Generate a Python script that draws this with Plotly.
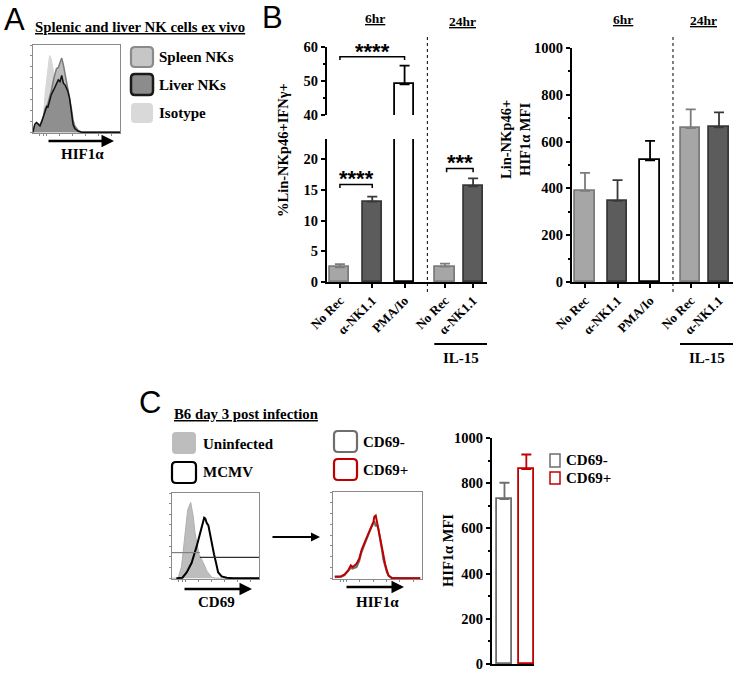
import plotly.graph_objects as go

W, H = 734, 673
SERIF = "Liberation Serif"
SANS = "Liberation Sans"

# ---------------- data ----------------
# Panel A: histogram (percent of box), channel position 0-100
hist_a_x = [0, 2, 4, 6, 8, 10, 12, 14, 16, 17, 19, 21, 24, 27, 29, 31, 33, 35, 37, 40, 42, 44, 46, 48, 52, 56, 60, 70, 100]
isotype_y = [0, 0, 0, 0, 0, 3, 20, 45, 65, 74, 88, 84, 67, 48, 36, 25, 16, 10, 6, 2, 1, 0, 0, 0, 0, 0, 0, 0, 0]
spleen_y = [0, 8, 11, 9, 8, 13, 18, 27, 31, 32, 40, 47, 62, 73, 74, 80, 85, 77, 66, 50, 43, 28, 14, 7, 2, 0, 0, 0, 0]
liver_y = [0, 9, 11, 9, 7, 12, 18, 26, 30, 28, 35, 43, 49, 56, 60, 58, 65, 56, 54, 47, 39, 24, 9, 4, 1, 0, 0, 0, 0]

# Panel B
b_labels = ["No Rec", "α-NK1.1", "PMA/Io", "No Rec", "α-NK1.1"]
b_pos = [0, 1, 2, 3.25, 4.12]
b_groups = ["norec", "ank", "pma", "norec", "ank"]
ifng_mean = [2.4, 13.1, 49.0, 2.5, 15.6]
ifng_err = [0.5, 0.8, 5.5, 0.5, 1.3]
hif_mean = [390, 347, 520, 658, 661]
hif_err = [76, 88, 83, 80, 64]
sig = [  # (x0, x1, y, label, axis)
    (0, 2, 57.1, "****", "upper"),
    (0, 1, 15.9, "****", "lower"),
    (3.3, 4.12, 18.5, "***", "lower"),
]

# Panel C
uninf_x = [0, 7, 11, 15, 18, 21.5, 24.5, 26.5, 29, 31, 36, 40, 45.6, 50, 100]
uninf_y = [0, 0, 14, 49, 80, 89, 72, 53, 38, 28, 18, 8.5, 1, 0, 0]
mcmv_x = [5, 12, 17, 22.6, 28.4, 32, 35, 37, 38.3, 39.8, 41.8, 43, 45.6, 48.3, 50.6, 53, 57, 63, 70, 100]
mcmv_y = [0, 0.5, 7, 18, 37.6, 53, 65, 71, 70, 65, 62, 55, 40, 28, 18, 7, 2, 0.5, 0, 0]
gate_y = [30, 24.4]
hif_x = [2, 9, 13, 17, 20, 22, 24.5, 26.5, 29.5, 32, 35, 38, 41, 43.5, 45.5, 46.5, 48, 49, 51, 53, 55, 56.5, 58.5, 60.5, 62.5, 66, 98]
hif_pos_y = [2, 2, 4.3, 9, 14.8, 12.9, 14.8, 16.8, 22.7, 32.4, 40.2, 48, 55.9, 61.7, 65.6, 71.5, 72.7, 67.6, 55.9, 48, 36.3, 24.6, 16.8, 9, 3.1, 0, 0]
hif_neg_y = [1, 1.5, 3.5, 8, 12, 11, 12.5, 13, 20, 30, 38, 47, 54, 60, 64, 66, 60, 63, 57, 46, 33, 22, 14, 7, 2.5, 0.5, 0]
c_labels = ["CD69-", "CD69+"]
c_mean = [730, 862]
c_err = [72, 65]

# ---------------- helpers ----------------
def px(a):
    return a / W

def py(b):
    return 1 - b / H

def dx(a, b):
    return [a / W, b / W]

def dy(top, bottom):
    return [1 - bottom / H, 1 - top / H]

styles = {
    "norec": dict(fill="#a6a6a6", line="#7c7c7c"),
    "ank": dict(fill="#5c5c5c", line="#383838"),
    "pma": dict(fill="#ffffff", line="#000000"),
}

fig = go.Figure()

# ---- Panel A histogram ----
fig.add_trace(go.Scatter(x=hist_a_x, y=isotype_y, mode="lines", fill="tozeroy",
                         fillcolor="#d7d7d7", line=dict(color="#d7d7d7", width=1),
                         xaxis="x", yaxis="y", showlegend=False, hoverinfo="skip"))
fig.add_trace(go.Scatter(x=hist_a_x, y=spleen_y, mode="lines", fill="tozeroy",
                         fillcolor="rgba(165,165,165,0.75)", line=dict(color="#7a7a7a", width=1.5),
                         xaxis="x", yaxis="y", showlegend=False, hoverinfo="skip"))
fig.add_trace(go.Scatter(x=hist_a_x, y=liver_y, mode="lines", fill="tozeroy",
                         fillcolor="#8f8f8f", line=dict(color="#111111", width=1.5),
                         xaxis="x", yaxis="y", showlegend=False, hoverinfo="skip"))

# ---- Panel B bars ----
def group_idx(g):
    return [i for i, gg in enumerate(b_groups) if gg == g]

for g in ["norec", "ank", "pma"]:
    idx = group_idx(g)
    st = styles[g]
    xs = [b_pos[i] for i in idx]
    # lower broken segment
    fig.add_trace(go.Bar(x=xs, y=[ifng_mean[i] for i in idx], width=0.59,
                         marker=dict(color=st["fill"], line=dict(color=st["line"], width=1.8)),
                         error_y=dict(type="data", symmetric=False,
                                      array=[ifng_err[i] for i in idx],
                                      arrayminus=[0] * len(idx),
                                      color=st["line"], thickness=1.8, width=5),
                         xaxis="x3", yaxis="y3", showlegend=False, hoverinfo="skip"))
    # right chart
    fig.add_trace(go.Bar(x=xs, y=[hif_mean[i] for i in idx], width=0.59,
                         marker=dict(color=st["fill"], line=dict(color=st["line"], width=1.8)),
                         error_y=dict(type="data", symmetric=False,
                                      array=[hif_err[i] for i in idx],
                                      arrayminus=[0] * len(idx),
                                      color=st["line"], thickness=1.8, width=5),
                         xaxis="x4", yaxis="y4", showlegend=False, hoverinfo="skip"))

# upper broken segment: only the bar that reaches it
up_idx = [i for i, v in enumerate(ifng_mean) if v > 40]
fig.add_trace(go.Bar(x=[b_pos[i] for i in up_idx], y=[ifng_mean[i] for i in up_idx], width=0.59,
                     marker=dict(color=styles["pma"]["fill"], line=dict(color="#000", width=1.8)),
                     error_y=dict(type="data", symmetric=False,
                                  array=[ifng_err[i] for i in up_idx],
                                  arrayminus=[0] * len(up_idx),
                                  color="#000", thickness=1.8, width=5),
                     xaxis="x2", yaxis="y2", showlegend=False, hoverinfo="skip"))

# ---- Panel C histograms ----
fig.add_trace(go.Scatter(x=uninf_x, y=uninf_y, mode="lines", fill="tozeroy",
                         fillcolor="#bdbdbd", line=dict(color="#b0b0b0", width=1),
                         xaxis="x5", yaxis="y5", showlegend=False, hoverinfo="skip"))
fig.add_trace(go.Scatter(x=mcmv_x, y=mcmv_y, mode="lines",
                         line=dict(color="#000", width=2),
                         xaxis="x5", yaxis="y5", showlegend=False, hoverinfo="skip"))
fig.add_trace(go.Scatter(x=hif_x, y=hif_neg_y, mode="lines",
                         line=dict(color="#6e6e6e", width=2),
                         xaxis="x6", yaxis="y6", showlegend=False, hoverinfo="skip"))
fig.add_trace(go.Scatter(x=hif_x, y=hif_pos_y, mode="lines",
                         line=dict(color="#c00000", width=2),
                         xaxis="x6", yaxis="y6", showlegend=False, hoverinfo="skip"))

# ---- Panel C bars ----
c_colors = ["#6e6e6e", "#c00000"]
for lab, m, e, col in zip(c_labels, c_mean, c_err, c_colors):
    fig.add_trace(go.Bar(x=[lab], y=[m], width=0.68,
                         marker=dict(color="#ffffff", line=dict(color=col, width=1.8)),
                         error_y=dict(type="data", symmetric=False, array=[e], arrayminus=[0],
                                      color=col, thickness=1.8, width=5),
                         xaxis="x7", yaxis="y7", showlegend=False, hoverinfo="skip"))

# ---------------- axes ----------------
tickfont = dict(family=SERIF, size=14.5, color="#000", weight="bold")
xtickfont = dict(family=SERIF, size=13, color="#000", weight="bold")

def hist_axes(xd, yd):
    xa = dict(domain=xd, range=[0, 100], showline=True, linecolor="#8a8a8a", linewidth=1,
              mirror=True, showgrid=False, zeroline=False, showticklabels=False, automargin=False,
              ticks="outside", ticklen=2, tickcolor="#8a8a8a", tickvals=[8, 12, 15, 30, 45, 60, 75, 90])
    ya = dict(domain=yd, range=[-1, 100], showline=True, linecolor="#8a8a8a", linewidth=1,
              mirror=True, showgrid=False, zeroline=False, showticklabels=False, automargin=False,
              ticks="outside", ticklen=2, tickcolor="#8a8a8a", dtick=12.5, tick0=0)
    return xa, ya

xa1, ya1 = hist_axes(dx(33, 120), dy(45, 133))
xa5, ya5 = hist_axes(dx(172, 259), dy(493, 579))
xa6, ya6 = hist_axes(dx(333, 422), dy(492, 579))
xa5["anchor"] = "y5"; ya5["anchor"] = "x5"
xa6["anchor"] = "y6"; ya6["anchor"] = "x6"

bx_range = [-0.4, 4.55]
bar_y_common = dict(showline=True, linecolor="#000", linewidth=2, showgrid=False, zeroline=False,
                    ticks="outside", ticklen=4, tickwidth=2, tickcolor="#000", tickfont=tickfont,
                    automargin=False, ticklabeloverflow="allow")
bar_x_common = dict(showline=True, linecolor="#000", linewidth=2, showgrid=False, zeroline=False,
                    ticks="outside", ticklen=4, tickwidth=2, tickcolor="#000", automargin=False,
                    ticklabeloverflow="allow",
                    tickvals=b_pos, ticktext=b_labels, tickangle=-45, tickfont=xtickfont)

fig.update_layout(
    template="none",
    width=W, height=H, margin=dict(l=0, r=0, t=0, b=0, pad=0, autoexpand=False),
    paper_bgcolor="#ffffff", plot_bgcolor="rgba(0,0,0,0)",
    bargap=0, barmode="overlay", showlegend=False,
    xaxis=xa1, yaxis=ya1,
    xaxis2=dict(domain=dx(327, 487), range=bx_range, visible=False, anchor="y2", automargin=False),
    yaxis2=dict(domain=dy(47, 115), range=[40, 60], anchor="x2", tickvals=[40, 50, 60],
                minor=dict(ticks="outside", ticklen=2, tickwidth=1.5, dtick=5, tickcolor="#000"),
                **bar_y_common),
    xaxis3=dict(domain=dx(327, 487), range=bx_range, anchor="y3", **bar_x_common),
    yaxis3=dict(domain=dy(139, 282), range=[0, 23.3], anchor="x3", tickvals=[0, 5, 10, 15, 20],
                **bar_y_common),
    xaxis4=dict(domain=dx(572, 733), range=bx_range, anchor="y4", **bar_x_common),
    yaxis4=dict(domain=dy(48, 282), range=[0, 1000], anchor="x4", dtick=200,
                minor=dict(ticks="outside", ticklen=2, tickwidth=1.5, dtick=100, tickcolor="#000"),
                **bar_y_common),
    xaxis5=xa5, yaxis5=ya5,
    xaxis6=xa6, yaxis6=ya6,
    xaxis7=dict(domain=dx(492, 534), range=[-0.57, 1.35], anchor="y7", showline=True,
                linecolor="#000", linewidth=2, showgrid=False, zeroline=False, automargin=False,
                showticklabels=False, ticks=""),
    yaxis7=dict(domain=dy(438, 664), range=[0, 1000], anchor="x7", dtick=200,
                minor=dict(ticks="outside", ticklen=2, tickwidth=1.5, dtick=100, tickcolor="#000"),
                **bar_y_common),
)

# ---------------- annotations ----------------
anns = []
TS = 15  # serif label size

def text(t, x, y, size=TS, xanchor="center", angle=0, family=SERIF, bold=True, color="#000"):
    f = dict(family=family, size=size, color=color)
    if bold:
        f["weight"] = "bold"
    anns.append(dict(text=t, x=px(x), y=py(y), xref="paper", yref="paper", showarrow=False,
                     xanchor=xanchor, yanchor="middle", textangle=angle, font=f))

def arrow(x0, y0, x1, y1, width=2.5):
    anns.append(dict(text="", x=px(x1), y=py(y1), xref="paper", yref="paper", showarrow=True,
                     ax=x0 - x1, ay=y0 - y1, arrowhead=2, arrowsize=1, arrowwidth=width,
                     arrowcolor="#000"))

# Panel letters
text("A", 14, 19, size=31, family=SANS, bold=False)
text("B", 272, 17, size=31, family=SANS, bold=False)
text("C", 150, 402, size=31, family=SANS, bold=False)

# Panel A
text("<u>Splenic and liver NK cells ex vivo</u>", 33, 27, size=14.8, xanchor="left")
text("Spleen NKs", 157, 57, xanchor="left")
text("Liver NKs", 157, 85, xanchor="left")
text("Isotype", 157, 113, xanchor="left")
text("HIF1α", 82, 154)
arrow(47, 141, 114, 141)

# Panel B
text("<u>6hr</u>", 375, 18, size=13.5)
text("<u>24hr</u>", 462, 22, size=13.5)
text("<u>6hr</u>", 623, 19, size=13.5)
text("<u>24hr</u>", 703, 20, size=13.5)
text("%Lin-NKp46+IFNγ+", 283, 150, size=14.5, angle=-90)
text("Lin-NKp46+<br>HIF1α MFI", 515, 140, size=14.5, angle=-90)
text("IL-15", 461, 358)
text("IL-15", 707, 358)

for x0, x1, yv, lab, where in sig:
    ax_x, ax_y = ("x2", "y2") if where == "upper" else ("x3", "y3")
    anns.append(dict(text=lab, x=(x0 + x1) / 2, y=yv, xref=ax_x, yref=ax_y, showarrow=False,
                     yanchor="bottom", yshift=-9,
                     font=dict(family=SANS, size=22, color="#000", weight="bold")))

# Panel C
text("<u>B6 day 3 post infection</u>", 172, 414, size=14.8, xanchor="left")
text("Uninfected", 201, 444, xanchor="left")
text("MCMV", 201, 472, xanchor="left")
text("CD69-", 361, 442, xanchor="left")
text("CD69+", 361, 470, xanchor="left")
text("CD69", 217, 602)
text("HIF1α", 377, 602)
text("HIF1α MFI", 448, 551, size=14.5, angle=-90)
text("CD69-", 564, 460, xanchor="left")
text("CD69+", 564, 478, xanchor="left")
arrow(183, 589, 252, 589)
arrow(271, 537, 320, 537, width=1.8)
arrow(345, 587, 404, 587)

fig.update_layout(annotations=anns)

# ---------------- shapes ----------------
shapes = []

def rrect(x0, y0, x1, y1, fill, line, lw=2, r=4):
    # rounded rectangle in paper coords built from pixel corners
    def P(a, b):
        return f"{px(a):.5f},{py(b):.5f}"
    path = (f"M {P(x0 + r, y0)} L {P(x1 - r, y0)} Q {P(x1, y0)} {P(x1, y0 + r)} "
            f"L {P(x1, y1 - r)} Q {P(x1, y1)} {P(x1 - r, y1)} L {P(x0 + r, y1)} "
            f"Q {P(x0, y1)} {P(x0, y1 - r)} L {P(x0, y0 + r)} Q {P(x0, y0)} {P(x0 + r, y0)} Z")
    shapes.append(dict(type="path", path=path, xref="paper", yref="paper", fillcolor=fill,
                       line=dict(color=line if line else fill, width=lw if line else 0)))

# legend swatches A
rrect(131, 47, 153, 67, "#c6c6c6", "#8a8a8a", 2.2)
rrect(131, 74, 153, 95, "#8c8c8c", "#1a1a1a", 2.5)
rrect(131, 103, 153, 123, "#d9d9d9", None, 0)
# legend swatches C
rrect(172, 432, 196, 454, "#bdbdbd", None, 0)
rrect(172, 462, 196, 483, "#ffffff", "#000000", 2.2)
rrect(334, 431, 357, 452, "#ffffff", "#6e6e6e", 2.2)
rrect(334, 459, 357, 480, "#ffffff", "#c00000", 2.2)
# small square legend for C bars
shapes.append(dict(type="rect", xref="paper", yref="paper", x0=px(550), x1=px(560), y0=py(467), y1=py(454),
                   fillcolor="#fff", line=dict(color="#6e6e6e", width=1.5)))
shapes.append(dict(type="rect", xref="paper", yref="paper", x0=px(550), x1=px(560), y0=py(484), y1=py(472),
                   fillcolor="#fff", line=dict(color="#c00000", width=1.5)))

# dashed separators between 6hr and 24hr
sep_x = (b_pos[2] + b_pos[3]) / 2 + 0.08
for xr in ["x3", "x4"]:
    shapes.append(dict(type="line", xref=xr, yref="paper", x0=sep_x, x1=sep_x, y0=py(292), y1=py(35),
                       line=dict(color="#000", width=1, dash="dot")))

# IL-15 underline bars
for xr in ["x3", "x4"]:
    shapes.append(dict(type="line", xref=xr, yref="paper", x0=b_pos[3] - 0.33, x1=b_pos[4] + 0.45,
                       y0=py(344), y1=py(344), line=dict(color="#000", width=1.8)))

# significance brackets
for x0, x1, yv, lab, where in sig:
    ax_x, ax_y = ("x2", "y2") if where == "upper" else ("x3", "y3")
    drop = 0.9 if where == "upper" else 0.6
    shapes.append(dict(type="path", xref=ax_x, yref=ax_y,
                       path=f"M {x0},{yv - drop} L {x0},{yv} L {x1},{yv} L {x1},{yv - drop}",
                       line=dict(color="#000", width=1.5)))

# gate lines in CD69 histogram
shapes.append(dict(type="line", xref="x5", yref="y5", x0=0, x1=32, y0=gate_y[0], y1=gate_y[0],
                   line=dict(color="#808080", width=1.2)))
shapes.append(dict(type="line", xref="x5", yref="y5", x0=32, x1=100, y0=gate_y[1], y1=gate_y[1],
                   line=dict(color="#303030", width=1.2)))

fig.update_layout(shapes=shapes)

fig.write_html("out.html", config={"displayModeBar": False},
               post_script="document.body.style.margin='0';document.body.style.overflow='hidden';")
